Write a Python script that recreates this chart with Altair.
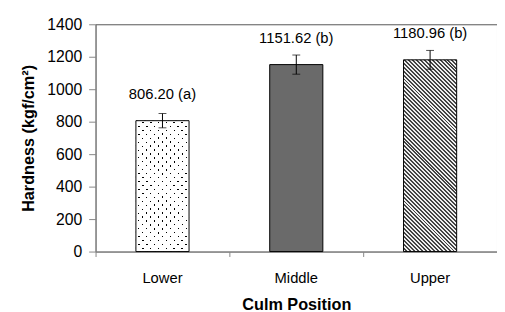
import altair as alt
import pandas as pd

# ---- data ----
positions = ["Lower", "Middle", "Upper"]
hardness = [806.20, 1151.62, 1180.96]
errors = [44, 59, 58]
groups = ["a", "b", "b"]
y_ticks = [0, 200, 400, 600, 800, 1000, 1200, 1400]

df = pd.DataFrame({
    "pos": positions,
    "hardness": hardness,
    "lo": [h - e for h, e in zip(hardness, errors)],
    "hi": [h + e for h, e in zip(hardness, errors)],
    "label": [f"{h:.2f} ({g})" for h, g in zip(hardness, groups)],
})

# ---- layout ----
PLOT_W, PLOT_H = 408, 231
Y_MAX = 1400
BAR_W = 54
FONT = "Liberation Sans"
AXIS_GRAY = "#868686"


def stripes(w, h, period, frac, c_line, c_bg, direction, span=None):
    """Linear gradient that draws diagonal stripes inside a w x h box."""
    L = w + h
    R = span if span else L
    n = R / period
    k = R / (w * w + h * h)
    if direction == "/":
        x1, y1, x2, y2 = 0, 0, k * w, k * h
    else:
        x1, y1, x2, y2 = 1, 0, 1 - k * w, k * h
    stops = []
    i = 0
    while i < n:
        a = i / n
        b = min((i + frac) / n, 1)
        c = min((i + 1) / n, 1)
        for off, col in [(a, c_line), (b, c_line), (b, c_bg), (c, c_bg)]:
            stops.append(alt.GradientStop(offset=round(off, 6), color=col))
        i += 1
    return alt.Gradient(gradient="linear", stops=stops,
                        x1=x1, y1=y1, x2=x2, y2=y2)


def bar_h(v):
    return v / Y_MAX * PLOT_H


x_enc = alt.X(
    "pos:N", sort=positions,
    scale=alt.Scale(domain=positions, paddingInner=0, paddingOuter=0),
    axis=alt.Axis(title="Culm Position", bandPosition=0,
                  labelAngle=0, tickSize=5, labelPadding=14, titlePadding=12,
                  labelFontSize=15, titleFontSize=16.5),
)


def y_enc(field):
    return alt.Y(
        f"{field}:Q",
        scale=alt.Scale(domain=[0, Y_MAX], nice=False),
        axis=alt.Axis(title="Hardness (kgf/cm²)", values=y_ticks, grid=False,
                      format="d", tickSize=7, labelPadding=7, titlePadding=10,
                      labelFontSize=16, titleFontSize=16.5),
    )


base = alt.Chart(df)

# Lower: dotted pattern = "/" lines under a white layer with "\" gaps
lower_h = bar_h(hardness[0])
lower_base = base.mark_bar(
    width=BAR_W,
    fill=stripes(BAR_W, lower_h, 8, 0.22, "#000000", "#ffffff", "/"),
).encode(x=x_enc, y=y_enc("hardness")).transform_filter(alt.datum.pos == positions[0])
lower_top = base.mark_bar(
    width=BAR_W,
    fill=stripes(BAR_W, lower_h, 8, 0.22, "rgba(255,255,255,0)", "#ffffff", "\\"),
    stroke="#000000", strokeWidth=1,
).encode(x=x_enc, y=y_enc("hardness")).transform_filter(alt.datum.pos == positions[0])

# Middle: fine checker texture, rendered as its average grey
middle = base.mark_bar(
    width=BAR_W, fill="#6a6a6a",
    stroke="#000000", strokeWidth=1,
).encode(x=x_enc, y=y_enc("hardness")).transform_filter(alt.datum.pos == positions[1])

# Upper: diagonal hatch
upper_h = bar_h(hardness[2])
upper = base.mark_bar(
    width=BAR_W,
    fill=stripes(BAR_W, upper_h, 4, 0.5, "#444444", "#eeeeee", "\\", span=256),
    stroke="#000000", strokeWidth=1,
).encode(x=x_enc, y=y_enc("hardness")).transform_filter(alt.datum.pos == positions[2])

err_rule = base.mark_rule(color="#000000", strokeWidth=1).encode(
    x=x_enc, y=y_enc("lo"), y2="hi:Q")
cap_hi = base.mark_tick(color="#000000", size=8, thickness=1).encode(
    x=x_enc, y=y_enc("hi"))
cap_lo = base.mark_tick(color="#000000", size=8, thickness=1).encode(
    x=x_enc, y=y_enc("lo"))

labels = base.mark_text(
    font=FONT, fontSize=15, color="#000000", baseline="alphabetic", dy=-22,
).encode(x=x_enc, y=y_enc("hardness"), text="label:N")

chart = alt.layer(
    lower_base, lower_top, middle, upper, err_rule, cap_hi, cap_lo, labels
).properties(
    width=PLOT_W, height=PLOT_H,
    autosize=alt.AutoSizeParams(type="none"),
    padding={"left": 89, "top": 14, "right": 0, "bottom": 66},
).configure_axis(
    labelFont=FONT, titleFont=FONT, labelColor="#000000", titleColor="#000000",
    domainColor=AXIS_GRAY, tickColor=AXIS_GRAY, titleFontWeight="bold",
).configure_view(
    stroke="#555555", strokeWidth=1,
)

chart.save("out.html", embed_options={"renderer": "svg", "actions": False})
